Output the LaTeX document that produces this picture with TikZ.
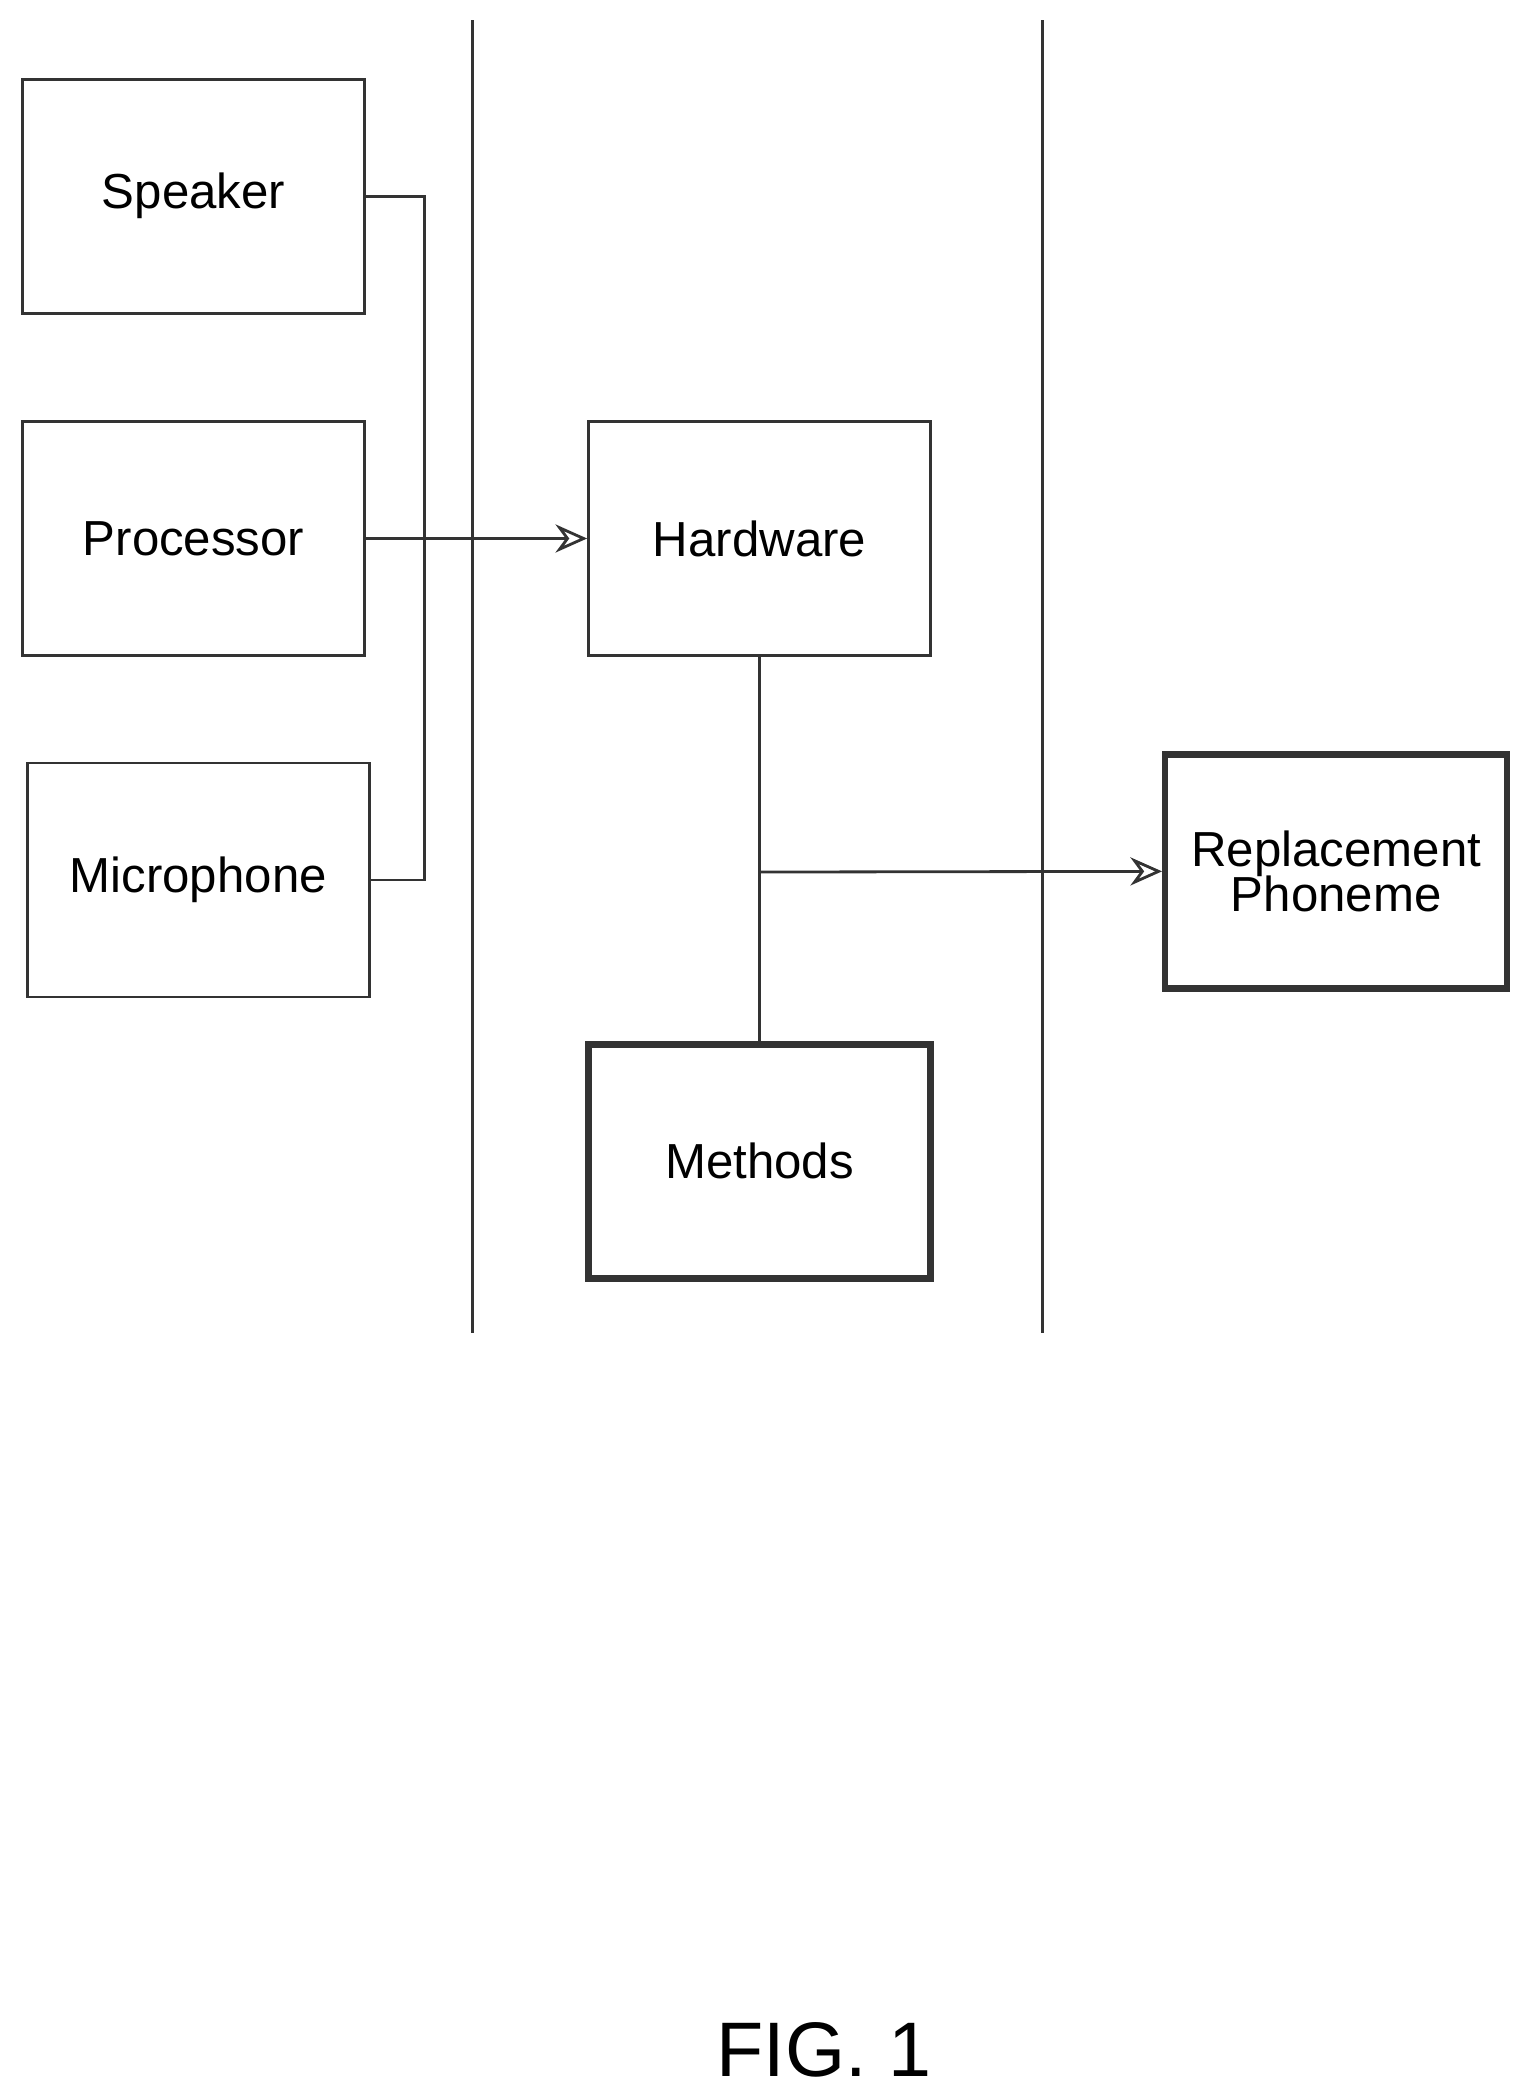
\documentclass[tikz,border=0pt]{standalone}
\usepackage{fontspec}
\setmainfont{Liberation Sans}
\usetikzlibrary{arrows.meta}
\tikzset{
  box/.style={draw=black!80, line width=0.8pt, minimum width=3.42cm, minimum height=2.34cm,
    align=center, font=\fontsize{14}{16}\selectfont},
  heavy/.style={box, line width=1.8pt},
  wire/.style={draw=black!80, line width=0.8pt}
}

\begin{document}
\begin{tikzpicture}[x=0.0134cm, y=-0.0134cm]
  \useasboundingbox (0,0) rectangle (1140,1564);
  % lanes
  \draw[wire] (353,15) -- (353,995);
  \draw[wire] (778,15) -- (778,995);

  % boxes
  \node[box] (spk) at (144.5,146.5) {Speaker};
  \node[box] (proc) at (144.5,402) {Processor};
  \node[box] (mic) at (148,657) {Microphone};
  \node[box] (hw) at (567,402) {Hardware};
  \node[heavy] (meth) at (567,867) {Methods};
  \node[heavy] (rep) at (997.5,650.5) {Replacement\\[-3pt]Phoneme};

  \coordinate (bus) at (317,0);
  \coordinate (tap) at (567,651);

  % connectors
  \draw[wire] (spk.east) -| (bus |- spk.east) -- (bus |- mic.east) -- (mic.east);
  \draw[wire, -{Stealth[open,length=9pt,width=8pt]}] (proc.east) -- (hw.west);
  \draw[wire] (hw.south) -- (meth.north);
  \draw[wire, -{Stealth[open,length=9pt,width=8pt]}] (tap) -- (rep.west);

  \node[font=\fontsize{22}{26}\selectfont] (fig) at (615,1530) {FIG. 1};
\end{tikzpicture}
\end{document}
